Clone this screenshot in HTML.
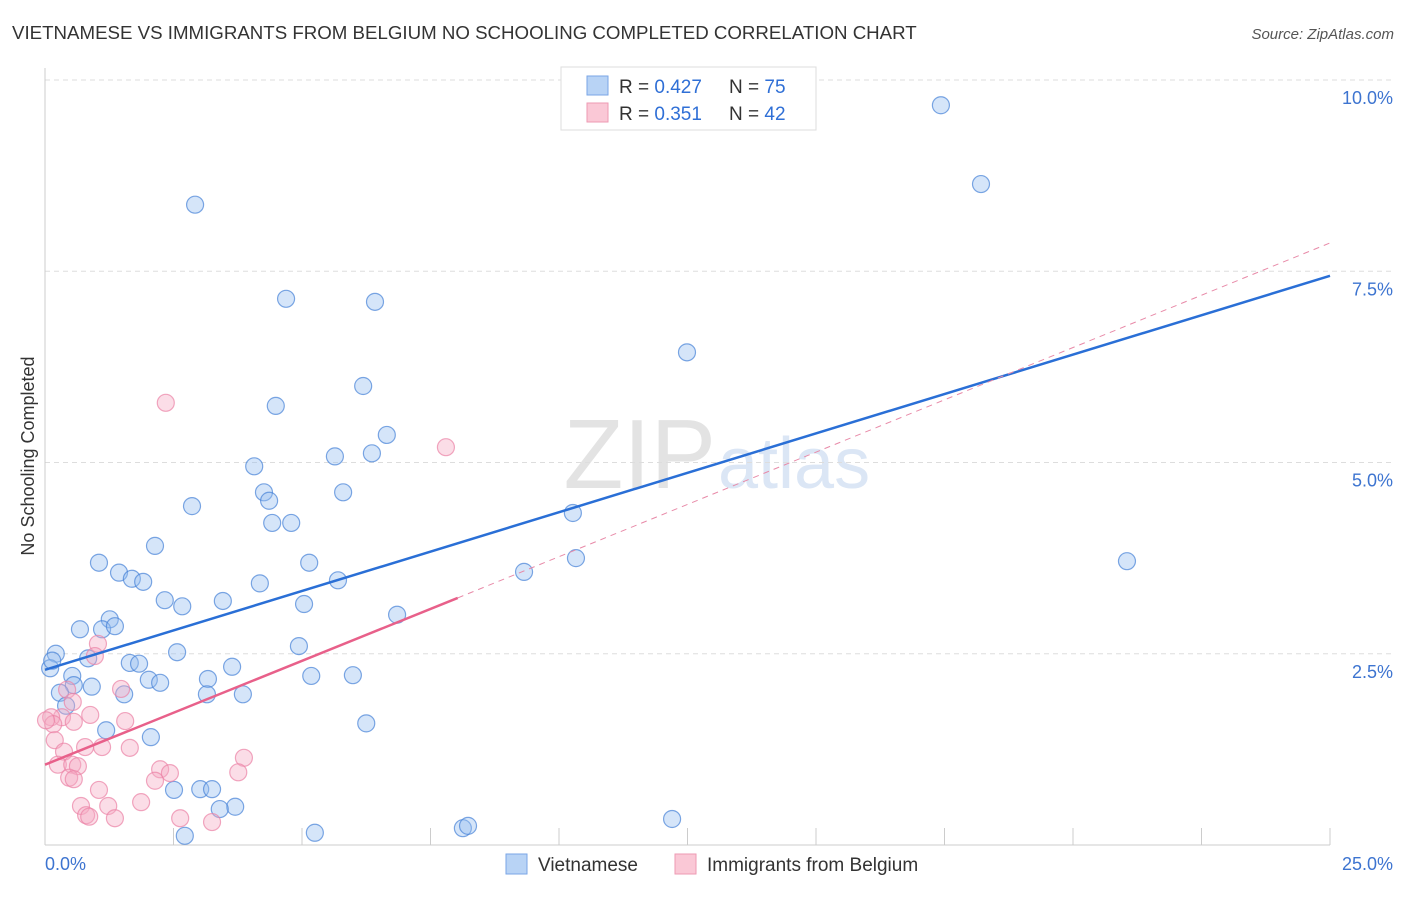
<!DOCTYPE html>
<html><head><meta charset="utf-8"><style>
body{margin:0;background:#fff;font-family:"Liberation Sans",sans-serif;}
svg text{font-family:"Liberation Sans",sans-serif;}
</style></head><body>
<svg id="chart" width="1406" height="892">
<text x="12" y="39" font-size="18.7" fill="#333">VIETNAMESE VS IMMIGRANTS FROM BELGIUM NO SCHOOLING COMPLETED CORRELATION CHART</text>
<text x="1394" y="39" font-size="15" fill="#555" font-style="italic" text-anchor="end">Source: ZipAtlas.com</text>
<text x="716" y="488" font-size="98" fill="#e3e3e3" text-anchor="end" font-family="Liberation Serif">ZIP</text>
<text x="718" y="488" font-size="72" fill="#dbe6f5">atlas</text>
<text transform="translate(34,456) rotate(-90)" font-size="18" fill="#333" text-anchor="middle">No Schooling Completed</text>
<g id="grid"></g><g id="axes"></g><g id="pts"></g><g id="lines"></g>
<g>
<rect x="561" y="67" width="255" height="63" fill="#fff" stroke="#ddd"/>
<rect x="587" y="76" width="21" height="19" fill="#b8d3f5" stroke="#7aa6e6"/>
<rect x="587" y="103" width="21" height="19" fill="#fac8d6" stroke="#ee9ab3"/>
<text x="619" y="93" font-size="19" fill="#333">R = <tspan fill="#2f6fd6">0.427</tspan></text>
<text x="729" y="93" font-size="19" fill="#333">N = <tspan fill="#2f6fd6">75</tspan></text>
<text x="619" y="120" font-size="19" fill="#333">R = <tspan fill="#2f6fd6"> 0.351</tspan></text>
<text x="729" y="120" font-size="19" fill="#333">N = <tspan fill="#2f6fd6">42</tspan></text>
</g>
<g>
<rect x="506" y="854" width="21" height="20" fill="#b8d3f5" stroke="#7aa6e6"/>
<text x="538" y="871" font-size="19" fill="#333">Vietnamese</text>
<rect x="675" y="854" width="21" height="20" fill="#fac8d6" stroke="#ee9ab3"/>
<text x="707" y="871" font-size="19" fill="#333">Immigrants from Belgium</text>
</g>
</svg>
<script>
const yTicks=[2.5,5,7.5,10];
const yTickLabels=["2.5%","5.0%","7.5%","10.0%"];
const xTicks=[0,2.5,5,7.5,10,12.5,15,17.5,20,22.5,25];
const blueX=[2.92,17.43,18.21,4.69,6.42,12.49,6.19,4.49,6.65,4.07,5.64,6.36,4.26,4.36,5.80,2.86,4.42,4.79,10.27,2.14,1.05,5.14,10.33,21.05,9.32,1.44,1.69,1.91,4.18,5.70,2.33,2.67,3.46,5.04,6.85,1.26,0.68,1.11,1.36,4.94,0.21,0.84,2.57,1.65,1.83,3.64,0.10,0.53,5.18,5.99,2.02,2.24,3.17,0.91,0.56,0.29,1.54,3.15,3.85,0.41,6.25,1.19,2.06,2.51,3.02,3.25,3.70,3.40,5.25,2.72,8.13,8.23,12.20,0.14];
const blueY=[8.37,9.67,8.64,7.14,7.10,6.44,6.00,5.74,5.36,4.95,5.08,5.12,4.61,4.50,4.61,4.43,4.21,4.21,4.34,3.91,3.69,3.69,3.75,3.71,3.57,3.56,3.48,3.44,3.42,3.46,3.20,3.12,3.19,3.15,3.01,2.95,2.82,2.82,2.86,2.60,2.50,2.44,2.52,2.38,2.37,2.33,2.31,2.21,2.21,2.22,2.16,2.12,2.17,2.07,2.09,1.99,1.97,1.97,1.97,1.82,1.59,1.50,1.41,0.72,0.73,0.73,0.50,0.47,0.16,0.12,0.22,0.25,0.34,2.41];
const pinkX=[2.35,7.80,1.03,0.97,1.48,0.43,0.54,0.88,0.33,0.12,0.16,0.56,1.56,0.19,0.78,1.11,1.65,0.37,3.87,0.25,0.53,0.64,2.24,2.43,3.76,0.47,0.56,2.14,1.05,0.70,1.23,1.87,0.80,0.86,1.36,2.63,3.25,0.02];
const pinkY=[5.78,5.20,2.63,2.47,2.04,2.03,1.87,1.70,1.67,1.67,1.58,1.61,1.62,1.37,1.28,1.28,1.27,1.22,1.14,1.05,1.05,1.03,0.99,0.94,0.95,0.88,0.86,0.84,0.72,0.51,0.51,0.56,0.39,0.37,0.35,0.35,0.30,1.63];
const blueTrend=[2.29,7.44];
const pinkTrend=[1.05,3.23,7.87];
const pinkSolidEnd=8.03;
const NS="http://www.w3.org/2000/svg";
const X=v=>45+v*51.4, Y=v=>845-v*76.5;
function mk(p,t,a){const e=document.createElementNS(NS,t);for(const k in a)e.setAttribute(k,a[k]);document.getElementById(p).appendChild(e);return e;}
yTicks.forEach((t,i)=>{
 const l=mk('grid','line',{x1:45,x2:1393,y1:Y(t),y2:Y(t),stroke:'#ddd','stroke-dasharray':'5,4'});
 
 
 const tx=mk('grid','text',{x:1393,y:Y(t)+24,'font-size':18,fill:'#3d74d0','text-anchor':'end'});tx.textContent=yTickLabels[i];
 
 
});
let a=mk('axes','line',{x1:45,x2:45,y1:68,y2:845,stroke:'#ccc'});


a=mk('axes','line',{x1:45,x2:1330,y1:845,y2:845,stroke:'#ccc'});


xTicks.forEach(t=>{const l=mk('axes','line',{x1:X(t),x2:X(t),y1:828,y2:845,stroke:'#ccc'});
 
 });
let t1=mk('axes','text',{x:45,y:870,'font-size':18,fill:'#3d74d0'});t1.textContent="0.0%";


t1=mk('axes','text',{x:1393,y:870,'font-size':18,fill:'#3d74d0','text-anchor':'end'});t1.textContent="25.0%";


blueX.forEach((x,i)=>{const c=mk('pts','circle',{cx:X(x),cy:Y(blueY[i]),r:8.5,fill:'rgba(150,190,240,0.4)',stroke:'rgba(70,130,215,0.7)','stroke-width':1.2});
 
 });
pinkX.forEach((x,i)=>{const c=mk('pts','circle',{cx:X(x),cy:Y(pinkY[i]),r:8.5,fill:'rgba(245,170,195,0.4)',stroke:'rgba(235,130,165,0.7)','stroke-width':1.2});
 
 });
let L=mk('lines','line',{x1:X(0),y1:Y(blueTrend[0]),x2:X(25),y2:Y(blueTrend[1]),stroke:'#2a6fd6','stroke-width':2.5});


L=mk('lines','line',{x1:X(pinkSolidEnd),y1:Y(pinkTrend[1]),x2:X(25),y2:Y(pinkTrend[2]),stroke:'#e88aa8','stroke-width':1,'stroke-dasharray':'6,5'});


L=mk('lines','line',{x1:X(0),y1:Y(pinkTrend[0]),x2:X(pinkSolidEnd),y2:Y(pinkTrend[1]),stroke:'#e8608a','stroke-width':2.5});


</script>
</body></html>
